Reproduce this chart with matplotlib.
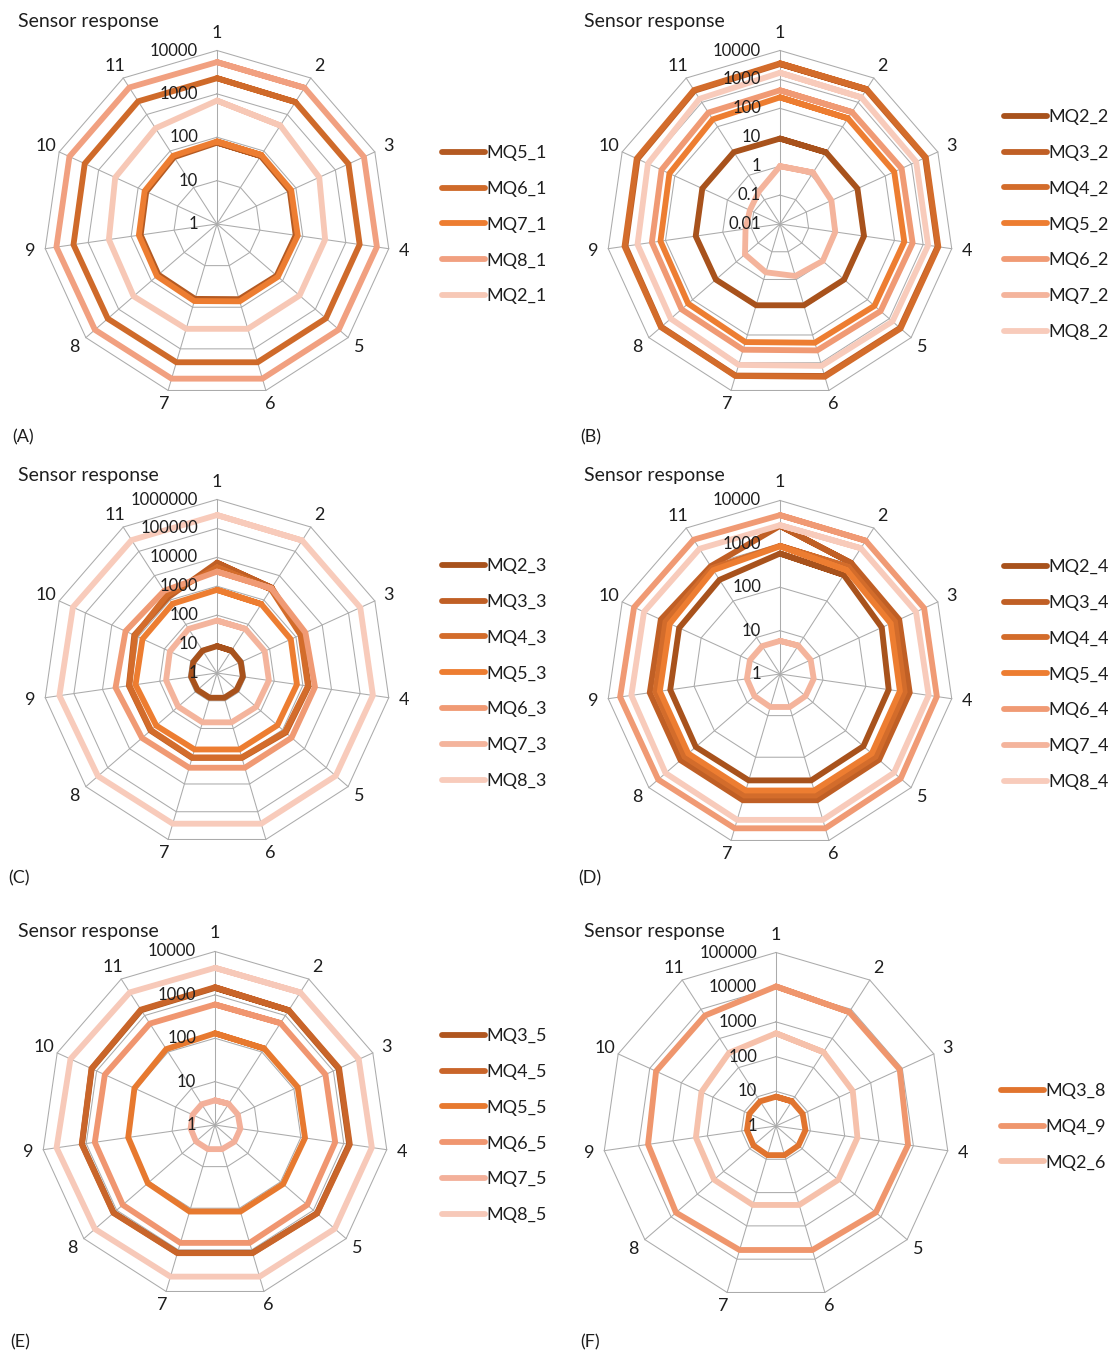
import numpy as np
import matplotlib
matplotlib.use("Agg")
import matplotlib.pyplot as plt
from matplotlib.ticker import NullLocator

plt.rcParams['font.family'] = ['Lato', 'DejaVu Sans']

# ---------------------------------------------------------------- data
spoke_labels = ["1", "2", "3", "4", "5", "6", "7", "8", "9", "10", "11"]

# (A)
a_names = ["MQ5_1", "MQ6_1", "MQ7_1", "MQ8_1", "MQ2_1"]
mq5_1 = [75, 73, 70, 68, 66, 64, 63, 61, 60, 62, 68]
mq6_1 = [2300, 2200, 2150, 2100, 2100, 2100, 2100, 2150, 2200, 2250, 2300]
mq7_1 = [80, 78, 76, 76, 72, 72, 71, 68, 66, 68, 74]
mq8_1 = [5400, 5400, 5300, 5300, 5200, 5200, 5200, 5300, 5500, 5500, 5500]
mq2_1 = [700, 500, 390, 330, 330, 330, 330, 350, 330, 380, 420]
a_ticks = [1, 10, 100, 1000, 10000]
a_tick_labels = ["1", "10", "100", "1000", "10000"]

# (B)
b_names = ["MQ2_2", "MQ3_2", "MQ4_2", "MQ5_2", "MQ6_2", "MQ7_2", "MQ8_2"]
mq2_2 = [9.0, 8.8, 8.8, 8.6, 8.6, 8.5, 8.5, 8.6, 8.8, 9.0, 9.0]
mq3_2 = [3400, 3300, 3300, 3200, 3100, 3000, 2900, 2700, 2500, 2600, 3000]
mq4_2 = [3600, 3500, 3500, 3400, 3300, 3200, 3000, 2800, 2700, 2800, 3200]
mq5_2 = [240, 220, 220, 220, 210, 190, 180, 160, 150, 160, 200]
mq6_2 = [420, 400, 420, 430, 400, 360, 340, 320, 300, 320, 380]
mq7_2 = [1.0, 1.3, 0.9, 0.85, 0.9, 0.75, 0.55, 0.4, 0.16, 0.14, 0.22]
mq8_2 = [1700, 1600, 1500, 1500, 1400, 1300, 1200, 1000, 950, 1050, 1400]
b_ticks = [0.01, 0.1, 1, 10, 100, 1000, 10000]
b_tick_labels = ["0.01", "0.1", "1", "10", "100", "1000", "10000"]

# (C)
c_names = ["MQ2_3", "MQ3_3", "MQ4_3", "MQ5_3", "MQ6_3", "MQ7_3", "MQ8_3"]
mq2_3 = [8.5, 8.3, 8.0, 8.0, 7.8, 7.8, 7.8, 7.8, 8.0, 8.0, 8.3]
mq3_3 = [6500, 3200, 1600, 1600, 1400, 1150, 1150, 1100, 1200, 1400, 1300]
mq4_3 = [4500, 2800, 1500, 1500, 1300, 1100, 1100, 1050, 1150, 1300, 1600]
mq5_3 = [750, 680, 640, 620, 580, 570, 570, 600, 700, 680, 700]
mq6_3 = [3200, 3000, 2300, 2650, 2600, 2600, 2600, 2700, 3500, 3000, 2400]
mq7_3 = [65, 65, 65, 65, 62, 60, 60, 60, 60, 62, 65]
mq8_3 = [290000, 280000, 280000, 280000, 270000, 270000, 270000, 280000, 320000, 300000, 290000]
c_ticks = [1, 10, 100, 1000, 10000, 100000, 1000000]
c_tick_labels = ["1", "10", "100", "1000", "10000", "100000", "1000000"]

# (D)
d_names = ["MQ2_4", "MQ3_4", "MQ4_4", "MQ5_4", "MQ6_4", "MQ7_4", "MQ8_4"]
mq2_4 = [600, 520, 380, 340, 350, 360, 360, 370, 360, 360, 380]
mq3_4 = [2600, 1100, 1050, 1050, 1050, 1080, 1080, 1080, 1080, 1050, 900]
mq4_4 = [900, 850, 820, 800, 820, 830, 830, 820, 800, 800, 800]
mq5_4 = [880, 700, 640, 620, 630, 630, 630, 630, 630, 620, 700]
mq6_4 = [4600, 4500, 4500, 4500, 4800, 5100, 5100, 5200, 5300, 5000, 4800]
mq7_4 = [5.8, 6.0, 6.0, 6.1, 6.0, 6.2, 6.2, 6.0, 5.9, 5.8, 5.8]
mq8_4 = [2700, 2800, 2800, 2900, 3000, 3200, 3200, 3100, 2900, 2800, 2700]
d_ticks = [1, 10, 100, 1000, 10000]
d_tick_labels = ["1", "10", "100", "1000", "10000"]

# (E)
e_names = ["MQ3_5", "MQ4_5", "MQ5_5", "MQ6_5", "MQ7_5", "MQ8_5"]
mq3_5 = [1450, 1380, 1350, 1330, 1280, 1180, 1180, 1230, 1250, 1330, 1400]
mq4_5 = [1500, 1400, 1400, 1380, 1300, 1200, 1200, 1250, 1270, 1350, 1450]
mq5_5 = [130, 125, 125, 125, 120, 120, 120, 112, 105, 110, 120]
mq6_5 = [600, 620, 630, 630, 650, 680, 680, 650, 630, 620, 600]
mq7_5 = [3.7, 3.8, 3.8, 3.9, 3.9, 3.8, 3.8, 3.8, 3.7, 3.7, 3.7]
mq8_5 = [4200, 4300, 4400, 4500, 4500, 4400, 4400, 4600, 4900, 4600, 4300]
e_ticks = [1, 10, 100, 1000, 10000]
e_tick_labels = ["1", "10", "100", "1000", "10000"]

# (F)
f_names = ["MQ3_8", "MQ4_9", "MQ2_6"]
mq3_8 = [7.0, 7.0, 7.0, 7.2, 7.2, 7.5, 7.5, 7.2, 7.0, 7.0, 7.0]
mq4_9 = [10500, 8000, 8300, 7000, 6400, 5300, 5300, 6500, 5300, 6300, 6100]
mq2_6 = [470, 340, 270, 235, 235, 235, 235, 230, 215, 230, 320]
f_ticks = [1, 10, 100, 1000, 10000, 100000]
f_tick_labels = ["1", "10", "100", "1000", "10000", "100000"]

# ---------------------------------------------------------------- styles
shades7 = ['#a8521c', '#c05f25', '#d36c2b', '#ed7d31', '#f09a74', '#f4b49c', '#f8cbbb']
a_colors = ['#b45a22', '#cf6a2a', '#ed7d31', '#f1a080', '#f7c8b6']
e_colors = ['#b0561f', '#c9652a', '#e7792f', '#f09670', '#f3b09a', '#f7c9b9']
f_colors = ['#e1742e', '#ef966d', '#f6c1ab']
grid_color = '#ababab'
text_color = '#1e1e1e'

W, H = 1112, 1356
R = 173.5
fig = plt.figure(figsize=(W / 100, H / 100), dpi=100)
fig.patch.set_facecolor('white')

theta = np.arange(11) * 2 * np.pi / 11


def radar(cx, cy, ticks, tick_labels, names, series, colors,
          legend_xy, title_xy, letter, letter_xy):
    ax = fig.add_axes([(cx - R) / W, 1 - (cy + R) / H, 2 * R / W, 2 * R / H],
                      projection='polar')
    ax.set_theta_zero_location('N')
    ax.set_theta_direction(-1)
    ax.set_rscale('log')
    rmin, rmax = ticks[0], ticks[-1]
    ax.set_rlim(rmin, rmax)
    ax.grid(False)
    ax.set_xticks([])
    ax.set_yticks([])
    ax.yaxis.set_minor_locator(NullLocator())
    ax.spines['polar'].set_visible(False)
    ax.patch.set_alpha(0)

    closed = np.r_[theta, theta[0]]
    for t in ticks[1:]:
        ax.plot(closed, [t] * 12, color=grid_color, lw=0.75, zorder=1,
                clip_on=False)
    for th in theta:
        ax.plot([th, th], [rmin, rmax], color=grid_color, lw=0.75, zorder=1,
                clip_on=False)

    lines = []
    wrap = np.r_[theta, theta[:2]]
    for i, (vals, col) in enumerate(zip(series, colors)):
        v = list(vals) + list(vals[:2])
        ln, = ax.plot(wrap, v, color=col, lw=4.2, solid_joinstyle='miter',
                      solid_capstyle='round', zorder=3 + i, clip_on=False)
        lines.append(ln)

    for t, lab in zip(ticks, tick_labels):
        ax.annotate(lab, xy=(0, t), xytext=(-19, 0), textcoords='offset pixels',
                    ha='right', va='center', fontsize=12, color=text_color,
                    zorder=30, annotation_clip=False)

    for th, lab in zip(theta, spoke_labels):
        dx = 15 * np.sin(th)
        dy = 14 * np.cos(th) + (4 if np.cos(th) > 0.95 else 0)
        ax.annotate(lab, xy=(th, rmax), xytext=(dx, dy),
                    textcoords='offset pixels', ha='center', va='center',
                    fontsize=13, color=text_color, annotation_clip=False)

    fig.legend(handles=lines, labels=names, loc='upper left',
               bbox_to_anchor=(legend_xy[0] / W, 1 - legend_xy[1] / H),
               frameon=False, fontsize=13, handlelength=2.4,
               handletextpad=0.05, labelspacing=1.1, borderpad=0,
               borderaxespad=0, labelcolor=text_color)
    fig.text(title_xy[0] / W, 1 - title_xy[1] / H, "Sensor response",
             fontsize=14, ha='left', va='center', color=text_color)
    fig.text(letter_xy[0] / W, 1 - letter_xy[1] / H, letter,
             fontsize=13, ha='left', va='center', color=text_color)


radar(217, 224, a_ticks, a_tick_labels, a_names,
      [mq5_1, mq6_1, mq7_1, mq8_1, mq2_1], a_colors,
      (442, 145), (18, 22), "(A)", (12, 437))
radar(780, 224, b_ticks, b_tick_labels, b_names,
      [mq2_2, mq3_2, mq4_2, mq5_2, mq6_2, mq7_2, mq8_2], shades7,
      (1004, 109), (584, 22), "(B)", (580, 437))
radar(217, 673, c_ticks, c_tick_labels, c_names,
      [mq2_3, mq3_3, mq4_3, mq5_3, mq6_3, mq7_3, mq8_3], shades7,
      (442, 558), (18, 476), "(C)", (8, 878))
radar(780, 674, d_ticks, d_tick_labels, d_names,
      [mq2_4, mq3_4, mq4_4, mq5_4, mq6_4, mq7_4, mq8_4], shades7,
      (1004, 559), (584, 476), "(D)", (578, 878))
radar(215, 1125, e_ticks, e_tick_labels, e_names,
      [mq3_5, mq4_5, mq5_5, mq6_5, mq7_5, mq8_5], e_colors,
      (442, 1028), (18, 932), "(E)", (10, 1342))
radar(776, 1126, f_ticks, f_tick_labels, f_names,
      [mq3_8, mq4_9, mq2_6], f_colors,
      (1001, 1083), (584, 932), "(F)", (580, 1342))

fig.savefig("out.png", dpi=100, facecolor='white')
